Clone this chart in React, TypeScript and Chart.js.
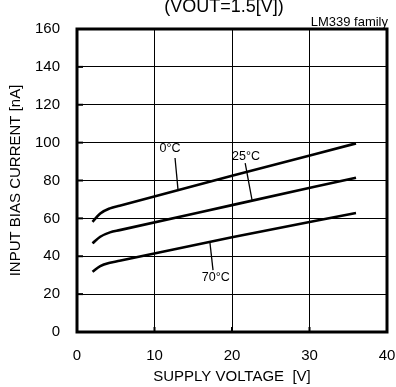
import React, { useEffect, useRef } from "react";
import { Chart, registerables } from "chart.js";

Chart.register(...registerables);

// ---- data ----
const supplyVoltage = [2, 3, 4.25, 5.5, 20, 36];
const biasCurrent0C = [58.2, 62.6, 65.3, 66.7, 82.5, 99.6];
const biasCurrent25C = [46.8, 50.3, 52.6, 53.8, 67.0, 81.5];
const biasCurrent70C = [31.8, 34.8, 36.6, 37.6, 50.0, 62.8];

const xTicks = [0, 10, 20, 30, 40];
const yTicks = [0, 20, 40, 60, 80, 100, 120, 140, 160];

const curveLabels = ["0°C", "25°C", "70°C"];
const curveLabelAt = [
  [12.0, 97.1],
  [21.8, 92.9],
  [17.9, 28.5],
];
const leaderFrom = [
  [12.65, 91.9],
  [21.7, 89.2],
  [17.16, 47.0],
];
const leaderTo = [
  [13.03, 75.3],
  [22.6, 69.4],
  [17.55, 32.7],
];

const chartTitle = "(VOUT=1.5[V])";
const familyNote = "LM339 family";
const xTitle = "SUPPLY VOLTAGE  [V]";
const yTitle = "INPUT BIAS CURRENT [nA]";

const FONT = "'Liberation Sans', Arial, sans-serif";

const decorations = {
  id: "decorations",
  afterDatasetsDraw(chart: any) {
    const { ctx, chartArea: a, scales } = chart;
    const x = scales.x;
    const y = scales.y;
    ctx.save();
    ctx.strokeStyle = "#000";
    ctx.fillStyle = "#000";

    // inner tick marks
    ctx.lineWidth = 2;
    yTicks.forEach((v) => {
      const py = y.getPixelForValue(v);
      ctx.beginPath();
      ctx.moveTo(a.left, py);
      ctx.lineTo(a.left + 6, py);
      ctx.stroke();
    });
    xTicks.forEach((v) => {
      const px = x.getPixelForValue(v);
      ctx.beginPath();
      ctx.moveTo(px, a.bottom);
      ctx.lineTo(px, a.bottom - 5);
      ctx.stroke();
    });

    // frame
    ctx.lineWidth = 3;
    ctx.strokeRect(a.left, a.top, a.right - a.left, a.bottom - a.top);

    // leader lines
    ctx.lineWidth = 1.3;
    for (let i = 0; i < leaderFrom.length; i++) {
      ctx.beginPath();
      ctx.moveTo(x.getPixelForValue(leaderFrom[i][0]), y.getPixelForValue(leaderFrom[i][1]));
      ctx.lineTo(x.getPixelForValue(leaderTo[i][0]), y.getPixelForValue(leaderTo[i][1]));
      ctx.stroke();
    }

    // curve labels
    ctx.font = `12.5px ${FONT}`;
    ctx.textAlign = "center";
    ctx.textBaseline = "middle";
    for (let i = 0; i < curveLabels.length; i++) {
      ctx.fillText(
        curveLabels[i],
        x.getPixelForValue(curveLabelAt[i][0]),
        y.getPixelForValue(curveLabelAt[i][1])
      );
    }

    // top texts
    ctx.textBaseline = "alphabetic";
    ctx.font = `18px ${FONT}`;
    ctx.textAlign = "center";
    ctx.fillText(chartTitle, (a.left + a.right) / 2 - 8, 12);
    ctx.font = `13px ${FONT}`;
    ctx.textAlign = "right";
    ctx.fillText(familyNote, a.right + 1, 25.5);

    ctx.restore();
  },
};

export default function App() {
  const canvasRef = useRef<HTMLCanvasElement | null>(null);

  useEffect(() => {
    if (!canvasRef.current) return;
    const line = (data: number[]) => ({
      data: supplyVoltage.map((v, i) => ({ x: v, y: data[i] })),
      borderColor: "#000",
      borderWidth: 2.6,
      pointRadius: 0,
      fill: false,
      cubicInterpolationMode: "monotone" as const,
    });
    const chart = new Chart(canvasRef.current, {
      type: "line",
      data: {
        datasets: [line(biasCurrent0C), line(biasCurrent25C), line(biasCurrent70C)],
      },
      options: {
        responsive: false,
        animation: false,
        events: [],
        layout: { padding: { top: 29, right: 9, left: 0, bottom: 0 } },
        plugins: {
          legend: { display: false },
          tooltip: { enabled: false },
          title: { display: false },
        },
        scales: {
          x: {
            type: "linear",
            min: 0,
            max: 40,
            afterBuildTicks: (s: any) => {
              s.ticks = xTicks.map((v) => ({ value: v }));
            },
            afterFit: (s: any) => {
              s.height = 55;
              s.paddingLeft = 0;
              s.paddingRight = 0;
            },
            ticks: {
              color: "#000",
              font: { family: FONT, size: 15 },
              padding: 15,
              maxRotation: 0,
            },
            grid: { color: "#000", lineWidth: 1, drawTicks: false },
            border: { display: false },
            title: {
              display: true,
              text: xTitle,
              color: "#000",
              font: { family: FONT, size: 15 },
              padding: { top: 0, bottom: 1 },
            },
          },
          y: {
            type: "linear",
            min: 0,
            max: 160,
            afterBuildTicks: (s: any) => {
              s.ticks = yTicks.map((v) => ({ value: v }));
            },
            afterFit: (s: any) => {
              s.width = 77;
              s.paddingTop = 0;
              s.paddingBottom = 0;
            },
            ticks: {
              color: "#000",
              font: { family: FONT, size: 15 },
              padding: 17,
            },
            grid: { color: "#000", lineWidth: 1, drawTicks: false },
            border: { display: false },
            title: {
              display: true,
              text: yTitle,
              color: "#000",
              font: { family: FONT, size: 15 },
              padding: { top: 7, bottom: 0 },
            },
          },
        },
      },
      plugins: [decorations],
    });
    return () => chart.destroy();
  }, []);

  return (
    <div style={{ position: "absolute", left: 0, top: 0, width: 396, height: 387, background: "#fff" }}>
      <canvas ref={canvasRef} width={396} height={387} style={{ display: "block" }} />
    </div>
  );
}
